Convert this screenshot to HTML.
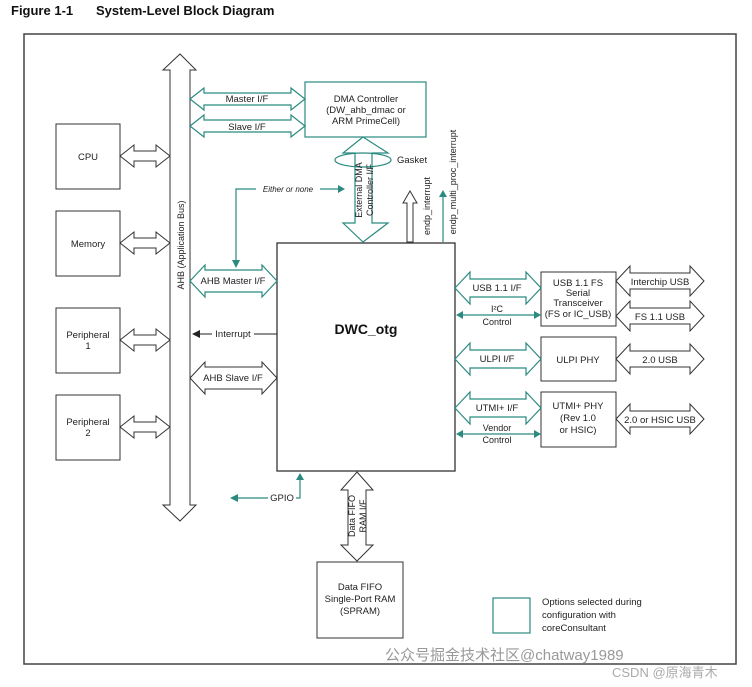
<!DOCTYPE html>
<html><head><meta charset="utf-8"><style>
html,body{margin:0;padding:0;background:#fff;}
svg{display:block;font-family:"Liberation Sans",Arial,sans-serif;}
</style></head><body>
<svg width="752" height="687" viewBox="0 0 752 687" xmlns="http://www.w3.org/2000/svg">
<text x="11" y="15" font-size="13" font-weight="bold" fill="#111">Figure 1-1</text>
<text x="96" y="15" font-size="13" font-weight="bold" fill="#111">System-Level Block Diagram</text>
<rect x="24" y="34" width="712" height="630" fill="none" stroke="#444" stroke-width="1.5"/>

<g fill="#fff" stroke="#333" stroke-width="1">
<rect x="56" y="124" width="64" height="65"/>
<rect x="56" y="211" width="64" height="65"/>
<rect x="56" y="308" width="64" height="65"/>
<rect x="56" y="395" width="64" height="65"/>
<polygon points="120,156 134,145 134,151 156,151 156,145 170,156 156,167 156,161 134,161 134,167"/>
<polygon points="120,243 134,232 134,238 156,238 156,232 170,243 156,254 156,248 134,248 134,254"/>
<polygon points="120,340 134,329 134,335 156,335 156,329 170,340 156,351 156,345 134,345 134,351"/>
<polygon points="120,427 134,416 134,422 156,422 156,416 170,427 156,438 156,432 134,432 134,438"/>
<polygon points="180,54 196,70 190,70 190,505 196,505 180,521 163,505 170,505 170,70 163,70"/>
<rect x="277" y="243" width="178" height="228" stroke-width="1.3"/>
<polygon points="190,378 205,362 205,367 262,367 262,362 277,378 262,394 262,389 205,389 205,394"/>
<rect x="541" y="272" width="75" height="54"/>
<rect x="541" y="337" width="75" height="44"/>
<rect x="541" y="392" width="75" height="55"/>
<polygon points="616,281 630,266 630,273 690,273 690,266 704,281 690,296 690,289 630,289 630,296"/>
<polygon points="616,316 630,301 630,308 690,308 690,301 704,316 690,331 690,324 630,324 630,331"/>
<polygon points="616,359 630,344 630,351 690,351 690,344 704,359 690,374 690,367 630,367 630,374"/>
<polygon points="616,419 630,404 630,411 690,411 690,404 704,419 690,434 690,427 630,427 630,434"/>
<polygon points="357,472 373,490 366,490 366,545 373,545 357,561 341,545 348,545 348,490 341,490"/>
<rect x="317" y="562" width="86" height="76"/>
<polygon points="410,191 417,203 413,203 413,242 407,242 407,203 403,203"/>
</g>

<g fill="#fff" stroke="#2a8a80" stroke-width="1.2">
<rect x="305" y="82" width="121" height="55"/>
<polygon points="190,99 204,88 204,93 291,93 291,88 305,99 291,110 291,105 204,105 204,110"/>
<polygon points="190,126 204,115 204,120 291,120 291,115 305,126 291,137 291,132 204,132 204,137"/>
<polygon points="363,137 388,153 372,153 372,223 388,223 363,242 343,223 355,223 355,153 343,153"/>
<ellipse cx="363" cy="160" rx="28" ry="7" fill="none"/>
<polygon points="190,281 205,265 205,270 262,270 262,265 277,281 262,297 262,292 205,292 205,297"/>
<polygon points="455,288 470,272 470,279 526,279 526,272 541,288 526,304 526,297 470,297 470,304"/>
<polygon points="455,359 470,343 470,350 526,350 526,343 541,359 526,375 526,368 470,368 470,375"/>
<polygon points="455,408 470,392 470,399 526,399 526,392 541,408 526,424 526,417 470,417 470,424"/>
<rect x="493" y="598" width="37" height="35"/>
</g>

<g stroke="#2a8a80" stroke-width="1.2" fill="none">
<polyline points="236,266 236,189 256,189"/><line x1="320" y1="189" x2="340" y2="189"/>
<line x1="443" y1="242" x2="443" y2="196"/>
<line x1="462" y1="315" x2="535" y2="315"/>
<line x1="462" y1="434" x2="535" y2="434"/>
<polyline points="300,478 300,498 296,498"/><line x1="268" y1="498" x2="238" y2="498"/>
</g>
<g fill="#2a8a80">
<polygon points="345,189 338,185 338,193"/>
<polygon points="236,268 232,260 240,260"/>
<polygon points="443,190 439,197 447,197"/>
<polygon points="456,315 463,311 463,319"/><polygon points="541,315 534,311 534,319"/>
<polygon points="456,434 463,430 463,438"/><polygon points="541,434 534,430 534,438"/>
<polygon points="300,473 296,480 304,480"/>
<polygon points="230,498 238,494 238,502"/>
</g>
<line x1="277" y1="334" x2="254" y2="334" stroke="#222"/>
<line x1="212" y1="334" x2="198" y2="334" stroke="#222"/>
<polygon points="192,334 200,330 200,338" fill="#222"/>

<g font-size="9.5" fill="#222" text-anchor="middle">
<text x="88" y="160">CPU</text>
<text x="88" y="247">Memory</text>
<text x="88" y="338">Peripheral</text><text x="88" y="349">1</text>
<text x="88" y="425">Peripheral</text><text x="88" y="436">2</text>
<text x="247" y="102">Master I/F</text>
<text x="247" y="130">Slave I/F</text>
<text x="366" y="102">DMA Controller</text>
<text x="366" y="113">(DW_ahb_dmac or</text>
<text x="366" y="124">ARM PrimeCell)</text>
<text x="233" y="284">AHB Master I/F</text>
<text x="233" y="381">AHB Slave I/F</text>
<text x="233" y="337">Interrupt</text>
<text x="497" y="291">USB 1.1 I/F</text>
<text x="497" y="312" font-size="9">I²C</text>
<text x="497" y="325" font-size="9">Control</text>
<text x="497" y="362">ULPI I/F</text>
<text x="497" y="411">UTMI+ I/F</text>
<text x="497" y="431" font-size="9">Vendor</text>
<text x="497" y="443" font-size="9">Control</text>
<text x="578" y="286">USB 1.1 FS</text>
<text x="578" y="296">Serial</text>
<text x="578" y="306">Transceiver</text>
<text x="578" y="317">(FS or IC_USB)</text>
<text x="578" y="363">ULPI PHY</text>
<text x="578" y="409">UTMI+ PHY</text>
<text x="578" y="421">(Rev 1.0</text>
<text x="578" y="433">or HSIC)</text>
<text x="660" y="285">Interchip USB</text>
<text x="660" y="320">FS 1.1 USB</text>
<text x="660" y="363">2.0 USB</text>
<text x="660" y="423">2.0 or HSIC USB</text>
<text x="282" y="501">GPIO</text>
<text x="360" y="590">Data FIFO</text>
<text x="360" y="602">Single-Port RAM</text>
<text x="360" y="614">(SPRAM)</text>
<text x="288" y="192" font-size="8" font-style="italic">Either  or none</text>
</g>
<text x="366" y="334" font-size="14" font-weight="bold" text-anchor="middle" fill="#111">DWC_otg</text>
<text x="397" y="163" font-size="9.5" fill="#222">Gasket</text>
<g font-size="9" fill="#222" text-anchor="middle">
<text transform="translate(184,245) rotate(-90)">AHB (Application  Bus)</text>
<text transform="translate(362,190) rotate(-90)">External DMA</text>
<text transform="translate(373,190) rotate(-90)">Controller I/F</text>
<text transform="translate(430,206) rotate(-90)">endp_interrupt</text>
<text transform="translate(456,182) rotate(-90)">endp_multi_proc_interrupt</text>
<text transform="translate(355,516) rotate(-90)">Data FIFO</text>
<text transform="translate(366,516) rotate(-90)">RAM I/F</text>
</g>
<g font-size="9.5" fill="#222">
<text x="542" y="605">Options selected during</text>
<text x="542" y="618">configuration with</text>
<text x="542" y="631">coreConsultant</text>
</g>
<text x="385" y="660" font-size="15" fill="#999" font-family="'Liberation Sans','Noto Sans CJK SC',sans-serif">公众号掘金技术社区@chatway1989</text>
<text x="612" y="677" font-size="13" fill="#aaa" font-family="'Liberation Sans','Noto Sans CJK SC',sans-serif">CSDN @原海青木</text>
</svg>
</body></html>
